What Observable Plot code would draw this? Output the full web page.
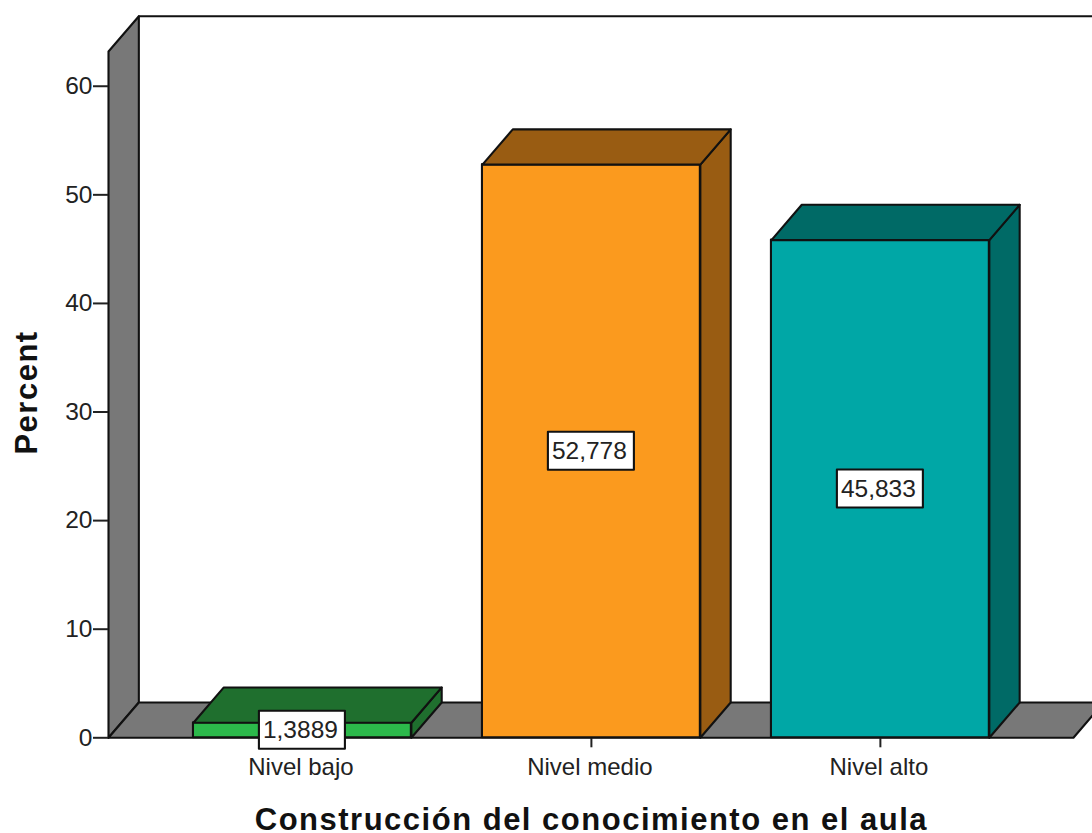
<!DOCTYPE html>
<html lang="es">
<head>
<meta charset="utf-8">
<title>Construcción del conocimiento en el aula</title>
<script src="https://cdn.jsdelivr.net/npm/d3@7"></script>
<script src="https://cdn.jsdelivr.net/npm/@observablehq/plot@0.6"></script>
<style>
  html, body { margin: 0; padding: 0; background: #fff; overflow: hidden; }
  svg { display: block; }
</style>
</head>
<body>
<div id="chart"></div>
<script>
// Percentages per level
const categories = ["Nivel bajo", "Nivel medio", "Nivel alto"];
const percents = [1.3889, 52.778, 45.833];
const labels = ["1,3889", "52,778", "45,833"];
const frontColors = ["#2cb94b", "#fb9a1e", "#00a7a6"];
const shadeColors = ["#1f6f2e", "#995c12", "#006a66"];
const yTicks = [0, 10, 20, 30, 40, 50, 60];

// Extents of the pseudo-3D box, in scale units
const xMin = -0.671, xMax = 2.734, xFloorEnd = 2.668;
const yMax = 66.45;
const halfBar = 0.377;
const xDepth = 0.105, yDepth = 3.25;
const wallColor = "#787878";

// Closed polygon helper: repeats the first vertex so the stroke closes
const poly = (face, color, pts) =>
  [...pts, pts[0]].map(([x, y]) => ({face, color, x, y}));

const box = [
  ...poly("wall", wallColor, [[xMin, 0], [xMin + xDepth, yDepth], [xMin + xDepth, yMax], [xMin, yMax - yDepth]]),
  ...poly("floor", wallColor, [[xMin, 0], [xFloorEnd, 0], [xFloorEnd + xDepth, yDepth], [xMin + xDepth, yDepth]])
];
const backTop = [{x: xMin + xDepth, y: yMax}, {x: xMax + 0.1, y: yMax}];

const bars = categories.map((c, i) => ({
  category: c, i, value: percents[i], label: labels[i],
  front: frontColors[i], shade: shadeColors[i]
}));

// Top and side faces of each bar
const faces = bars.flatMap(b => {
  const l = b.i - halfBar, r = b.i + halfBar;
  return [
    ...poly(`side-${b.i}`, b.shade, [[r, 0], [r + xDepth, yDepth], [r + xDepth, b.value + yDepth], [r, b.value]]),
    ...poly(`top-${b.i}`, b.shade, [[l, b.value], [r, b.value], [r + xDepth, b.value + yDepth], [l + xDepth, b.value + yDepth]])
  ];
});

const edge = {stroke: "#111", strokeWidth: 2.1, strokeLinejoin: "round"};

// Titles use a slightly open letter spacing
const spaced = (index, scales, values, dimensions, context, next) => {
  const g = next(index, scales, values, dimensions, context);
  g.style.letterSpacing = "1.5px";
  return g;
};

const chart = Plot.plot({
  width: 1092,
  height: 833,
  marginLeft: 108,
  marginRight: 0,
  marginTop: 15.7,
  marginBottom: 95.7,
  style: {fontFamily: "'Liberation Sans', Arial, sans-serif", overflow: "hidden", background: "#fff", color: "#222"},
  x: {domain: [xMin, xMax]},
  y: {domain: [0, yMax]},
  color: {type: "identity"},
  marks: [
    Plot.line(box, {x: "x", y: "y", z: "face", fill: "color", ...edge}),
    Plot.line(backTop, {x: "x", y: "y", ...edge}),
    Plot.axisY({ticks: yTicks, tickSize: 15, tickPadding: 1, fontSize: 24.5, label: null, stroke: "#222", strokeWidth: 2}),
    // Tick strokes and category names are separate so the names can sit slightly left of the ticks
    Plot.axisX({ticks: [0, 1, 2], tickFormat: () => "", tickSize: 10, label: null, stroke: "#222", strokeWidth: 2}),
    Plot.axisX({ticks: [0, 1, 2], tickFormat: i => categories[i], tickSize: 0, tickPadding: 20.5, fontSize: 24, label: null, dx: -1.5}),
    Plot.rectY(bars, {x1: d => d.i - halfBar, x2: d => d.i + halfBar, y: "value", fill: "front", ...edge}),
    Plot.line(faces, {x: "x", y: "y", z: "face", fill: "color", ...edge}),
    // Value tags centred at half the bar height
    Plot.rect(bars, {
      x1: "i", x2: "i", y1: d => d.value / 2, y2: d => d.value / 2,
      insetLeft: -43, insetRight: -43, insetTop: -19, insetBottom: -19,
      fill: "#fff", ...edge
    }),
    Plot.text(bars, {x: "i", y: d => d.value / 2, text: "label", fontSize: 24.5, dx: -2, fill: "#222"}),
    Plot.text(["Construcción del conocimiento en el aula"], {
      x: () => 1, frameAnchor: "bottom", dy: 92, text: d => d,
      fontSize: 31, fontWeight: "bold", fill: "#111", render: spaced
    }),
    Plot.text(["Percent"], {
      y: () => 31.8, frameAnchor: "left", dx: -81, rotate: -90, textAnchor: "middle", text: d => d,
      fontSize: 31, fontWeight: "bold", fill: "#111", render: spaced
    })
  ]
});
document.getElementById("chart").append(chart);
</script>
</body>
</html>
